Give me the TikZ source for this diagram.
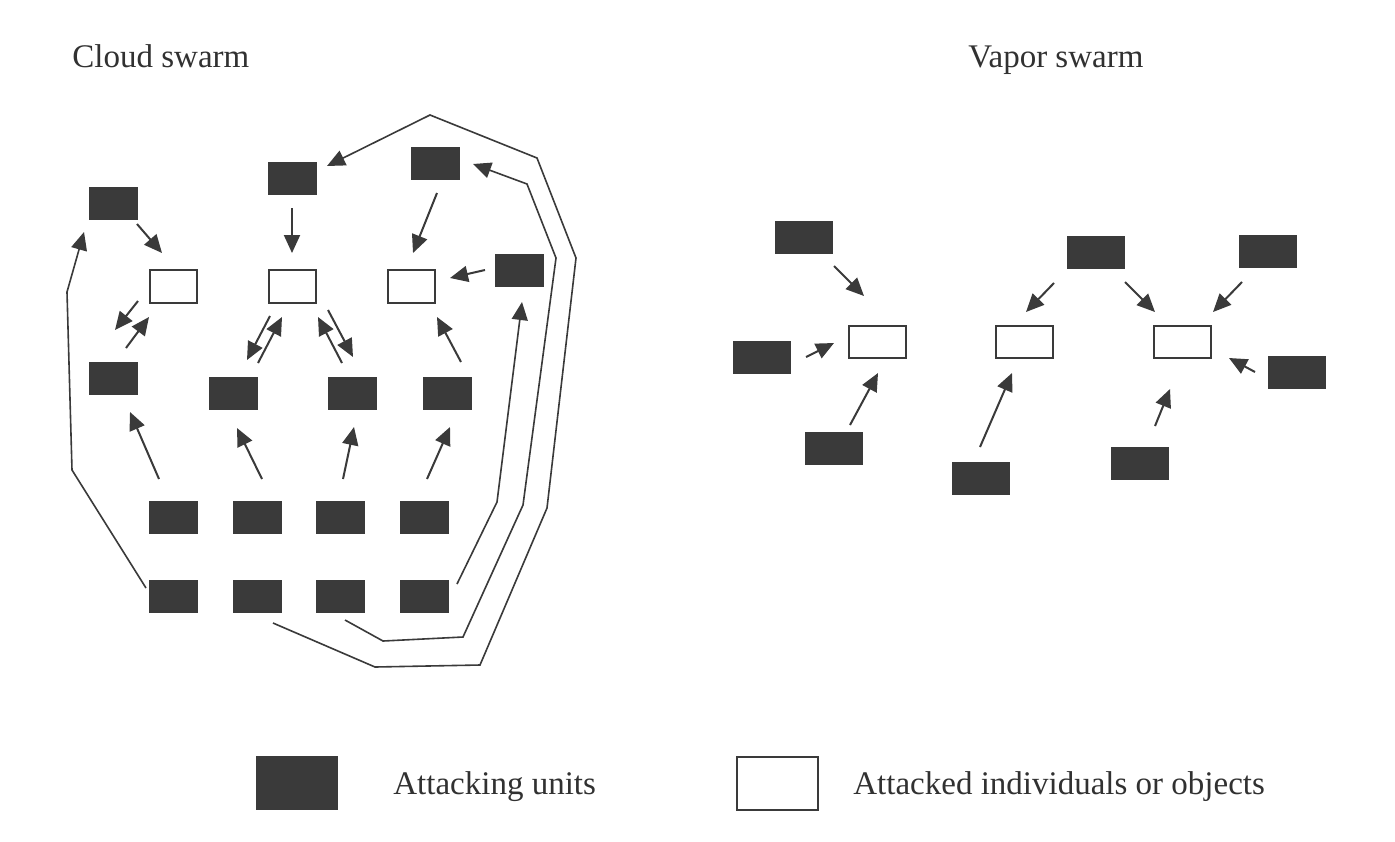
\documentclass[tikz,border=0pt]{standalone}
\usepackage{fontspec}
\setmainfont{Liberation Serif}
\usetikzlibrary{arrows.meta,calc}
\definecolor{ink}{HTML}{3A3A3A}

\begin{document}
\begin{tikzpicture}[x=0.5pt,y=-0.5pt,
  unit/.style={fill=ink,draw=ink,inner sep=0pt,minimum width=24pt,minimum height=16pt},
  target/.style={fill=white,draw=ink,line width=1pt,inner sep=0pt,minimum width=23.5pt,minimum height=16.5pt},
  vunit/.style={unit,minimum width=28.5pt},
  vtarget/.style={target,minimum width=28.5pt,minimum height=16pt},
  arr/.style={draw=ink,line width=1pt,-{Triangle[length=9pt,width=8pt]}},
  route/.style={draw=ink,line width=0.8pt},
  caption/.style={anchor=base west,inner sep=0pt,text=ink!85!black,font=\fontsize{16.5}{20}\selectfont}]
\useasboundingbox[fill=white] (0,0) rectangle (1395,841);

% titles
\node[caption] (cloud) at (72,67) {Cloud swarm};
\node[caption] (vapor) at (968,67) {Vapor swarm};

% cloud swarm
\node[unit] (ca) at (113,203) {};
\node[unit] (cb) at (292,178) {};
\node[unit] (cc) at (435,163) {};
\node[unit] (cd) at (519,270) {};
\node[target] (t1) at (173,286) {};
\node[target] (t2) at (292,286) {};
\node[target] (t3) at (411,286) {};
\node[unit] (e1) at (113,378) {};
\node[unit] (e2) at (233,393) {};
\node[unit] (e3) at (352,393) {};
\node[unit] (e4) at (447,393) {};
\foreach \i/\x in {1/173,2/257,3/340,4/424} {
  \node[unit] (f\i) at (\x,517) {};
  \node[unit] (g\i) at (\x,596) {};
}

\draw[arr] ($(ca)+(24,21)$) -- ($(t1)+(-11,-33)$);
\draw[arr] ($(cb)+(0,30)$) -- ($(t2)+(0,-33)$);
\draw[arr] ($(cc)+(2,30)$) -- ($(t3)+(2,-33)$);
\draw[arr] ($(cd)+(-34,0)$) -- ($(t3)+(39,-8)$);
\draw[arr] ($(t1)+(-35,15)$) -- ($(e1)+(2,-48)$);
\draw[arr] ($(e1)+(13,-30)$) -- ($(t1)+(-24,31)$);
\draw[arr] ($(t2)+(-22,30)$) -- ($(e2)+(14,-33)$);
\draw[arr] ($(e2)+(25,-30)$) -- ($(t2)+(-10,31)$);
\draw[arr] ($(e3)+(-10,-30)$) -- ($(t2)+(26,31)$);
\draw[arr] ($(t2)+(36,24)$) -- ($(e3)+(1,-36)$);
\draw[arr] ($(e4)+(14,-31)$) -- ($(t3)+(26,31)$);
\draw[arr] ($(f1)+(-14,-38)$) -- ($(e1)+(17,34)$);
\draw[arr] ($(f2)+(5,-38)$) -- ($(e2)+(4,35)$);
\draw[arr] ($(f3)+(3,-38)$) -- ($(e3)+(2,34)$);
\draw[arr] ($(f4)+(3,-38)$) -- ($(e4)+(3,34)$);

% long routes
\draw[arr,route] ($(g1)+(-27,-8)$) -- (72,470) -- (67,292) -- ($(ca)+(-29,29)$);
\draw[arr,route] ($(g4)+(33,-12)$) -- (497,502) -- ($(cd)+(3,32)$);
\draw[arr,route] ($(g3)+(5,24)$) -- (383,641) -- (463,637) -- (523,505) -- (556,258) -- (527,184) -- ($(cc)+(38,1)$);
\draw[arr,route] ($(g2)+(16,27)$) -- (375,667) -- (480,665) -- (547,508) -- (576,258) -- (537,158) -- (430,115) -- ($(cb)+(35,-12)$);

% vapor swarm
\node[vunit] (v1) at (804,237) {};
\node[vunit] (v2) at (762,357) {};
\node[vunit] (v3) at (834,448) {};
\node[vunit] (v4) at (1096,252) {};
\node[vunit] (v5) at (1268,251) {};
\node[vunit] (v6) at (1297,372) {};
\node[vunit] (v7) at (981,478) {};
\node[vunit] (v8) at (1140,463) {};
\node[vtarget] (s1) at (877,342) {};
\node[vtarget] (s2) at (1024,342) {};
\node[vtarget] (s3) at (1182,342) {};

\draw[arr] ($(v1)+(30,29)$) -- ($(s1)+(-13,-46)$);
\draw[arr] ($(v2)+(44,0)$) -- ($(s1)+(-43,1)$);
\draw[arr] ($(v3)+(16,-23)$) -- ($(s1)+(1,31)$);
\draw[arr] ($(v7)+(-1,-31)$) -- ($(s2)+(-12,31)$);
\draw[arr] ($(v4)+(-42,31)$) -- ($(s2)+(2,-30)$);
\draw[arr] ($(v4)+(29,30)$) -- ($(s3)+(-27,-30)$);
\draw[arr] ($(v5)+(-26,31)$) -- ($(s3)+(31,-30)$);
\draw[arr] ($(v6)+(-42,0)$) -- ($(s3)+(47,16)$);
\draw[arr] ($(v8)+(15,-37)$) -- ($(s3)+(-12,47)$);

% legend
\node[unit,minimum width=40.5pt,minimum height=26.5pt] (kunit) at (297,783) {};
\node[target,minimum width=40.5pt,minimum height=26.5pt] (ktarget) at (777,783) {};
\node[caption] (kunittext) at (393,794) {Attacking units};
\node[caption] (ktargettext) at (853,794) {Attacked individuals or objects};
\end{tikzpicture}
\end{document}
